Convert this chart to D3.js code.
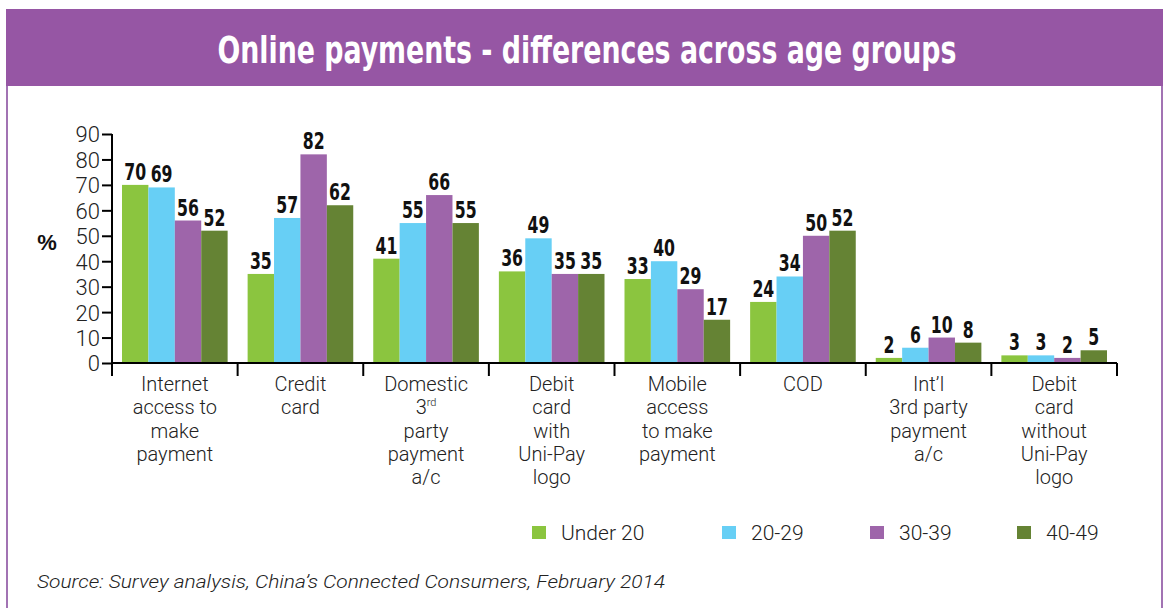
<!DOCTYPE html>
<html>
<head>
<meta charset="utf-8">
<script src="https://cdn.jsdelivr.net/npm/d3@7"></script>
<style>
  html, body { margin: 0; padding: 0; background: #fff; }
  svg { display: block; }
</style>
</head>
<body>
<svg id="chart" width="1165" height="608"></svg>
<script>
// ---------- data ----------
const categories = [
  ["Internet", "access to", "make", "payment"],
  ["Credit", "card"],
  ["Domestic", "3^rd", "party", "payment", "a/c"],
  ["Debit", "card", "with", "Uni-Pay", "logo"],
  ["Mobile", "access", "to make", "payment"],
  ["COD"],
  ["Int\u2019l", "3rd party", "payment", "a/c"],
  ["Debit", "card", "without", "Uni-Pay", "logo"]
];
const seriesNames = ["Under 20", "20-29", "30-39", "40-49"];
const under20 = [70, 35, 41, 36, 33, 24, 2, 3];
const age2029 = [69, 57, 55, 49, 40, 34, 6, 3];
const age3039 = [56, 82, 66, 35, 29, 50, 10, 2];
const age4049 = [52, 62, 55, 35, 17, 52, 8, 5];
const yTicks = [0, 10, 20, 30, 40, 50, 60, 70, 80, 90];
const titleText = "Online payments - differences across age groups";
const sourceText = "Source: Survey analysis, China\u2019s Connected Consumers, February 2014";

(function () {
const seriesValues = [under20, age2029, age3039, age4049];
const colors = ["#8bc53f", "#67cff5", "#9e65aa", "#658334"];

// ---------- layout ----------
const svg = d3.select("#chart");
const W = 1165, H = 608;
const pLeft = 112, pRight = 1117, pTop = 134, base = 363;

// frame
svg.append("rect").attr("x", 6).attr("y", 9).attr("width", 1157).attr("height", 77).attr("fill", "#9656a4");
svg.append("line").attr("x1", 7).attr("x2", 7).attr("y1", 86).attr("y2", H).attr("stroke", "#a273b3").attr("stroke-width", 2);
svg.append("line").attr("x1", 1162).attr("x2", 1162).attr("y1", 86).attr("y2", H).attr("stroke", "#a273b3").attr("stroke-width", 2);

svg.append("text")
  .attr("x", 587).attr("y", 63)
  .attr("text-anchor", "middle")
  .attr("fill", "#fff")
  .attr("font-family", "'DejaVu Sans Condensed', 'DejaVu Sans', sans-serif")
  .attr("font-weight", "bold")
  .attr("font-size", 38)
  .attr("textLength", 739)
  .attr("lengthAdjust", "spacingAndGlyphs")
  .text(titleText);

// scales
const idx = d3.range(categories.length);
const x0 = d3.scaleBand().domain(idx).range([pLeft, pRight]).padding(0);
const x1 = d3.scaleBand().domain(d3.range(seriesNames.length)).range([10, x0.bandwidth() - 10]).padding(0);
const y = d3.scaleLinear().domain([0, 90]).range([base, pTop]);

// bars
const groups = svg.append("g").selectAll("g")
  .data(idx).join("g")
  .attr("transform", i => `translate(${x0(i)},0)`);

groups.selectAll("rect")
  .data(i => seriesValues.map((s, k) => ({ k, v: s[i] })))
  .join("rect")
  .attr("x", d => x1(d.k))
  .attr("y", d => y(d.v))
  .attr("width", x1.bandwidth())
  .attr("height", d => base - y(d.v))
  .attr("fill", d => colors[d.k]);

groups.selectAll("text.val")
  .data(i => seriesValues.map((s, k) => ({ k, v: s[i] })))
  .join("text")
  .attr("class", "val")
  .attr("transform", d => `translate(${x1(d.k) + x1.bandwidth() / 2},${y(d.v) - 5}) scale(0.76,1)`)
  .attr("text-anchor", "middle")
  .attr("font-family", "'DejaVu Sans Condensed', 'DejaVu Sans', sans-serif")
  .attr("font-weight", "bold")
  .attr("font-size", 23)
  .attr("fill", "#111")
  .text(d => d.v);

// y axis
const yAxis = d3.axisLeft(y).tickValues(yTicks).tickSize(10).tickPadding(2);
const yg = svg.append("g").attr("transform", `translate(${pLeft},0)`).call(yAxis);
yg.select(".domain").remove();
yg.selectAll(".tick line").attr("stroke", "#000").attr("stroke-width", 2);
yg.selectAll(".tick text")
  .attr("font-family", "Roboto, 'Liberation Sans', sans-serif")
  .attr("font-weight", 300)
  .attr("font-size", 22)
  .attr("fill", "#222")
  .attr("dy", "0.36em");
svg.append("line").attr("x1", pLeft).attr("x2", pLeft).attr("y1", pTop).attr("y2", base + 13)
  .attr("stroke", "#000").attr("stroke-width", 2);

svg.append("text").attr("x", 47).attr("y", 250).attr("text-anchor", "middle")
  .attr("font-family", "'Liberation Sans', sans-serif").attr("font-weight", "bold")
  .attr("font-size", 22).attr("fill", "#111").text("%");

// x axis
svg.append("line").attr("x1", pLeft).attr("x2", pRight).attr("y1", base).attr("y2", base)
  .attr("stroke", "#000").attr("stroke-width", 2);
const boundaries = idx.map(i => x0(i) + x0.bandwidth());
svg.append("g").selectAll("line").data(boundaries).join("line")
  .attr("x1", d => d).attr("x2", d => d).attr("y1", base).attr("y2", base + 13)
  .attr("stroke", "#000").attr("stroke-width", 2);

// category labels
const catG = svg.append("g")
  .attr("font-family", "Roboto, 'Liberation Sans', sans-serif")
  .attr("font-weight", 300)
  .attr("font-size", 20)
  .attr("fill", "#222");
idx.forEach(i => {
  const cx = x0(i) + x0.bandwidth() / 2;
  const t = catG.append("text").attr("text-anchor", "middle");
  categories[i].forEach((line, j) => {
    const yy = 391 + j * 23.3;
    if (line.includes("^")) {
      const [a, b] = line.split("^");
      const tl = catG.append("text").attr("x", cx).attr("y", yy).attr("text-anchor", "middle");
      tl.append("tspan").text(a);
      tl.append("tspan").attr("font-size", 11).attr("dy", -8).text(b);
    } else {
      t.append("tspan").attr("x", cx).attr("y", yy).text(line);
    }
  });
});

// legend
const legX = [532, 722, 870, 1017];
const leg = svg.append("g").selectAll("g").data(seriesNames).join("g")
  .attr("transform", (d, k) => `translate(${legX[k]},0)`);
leg.append("rect").attr("x", 0).attr("y", 526).attr("width", 14).attr("height", 13)
  .attr("fill", (d, k) => colors[k]);
leg.append("text").attr("x", 29).attr("y", 540)
  .attr("font-family", "Roboto, 'Liberation Sans', sans-serif")
  .attr("font-weight", 300).attr("font-size", 21).attr("fill", "#222")
  .text(d => d);

// source
svg.append("text").attr("x", 37).attr("y", 588)
  .attr("font-family", "Roboto, 'Liberation Sans', sans-serif")
  .attr("font-weight", 300).attr("font-style", "italic")
  .attr("font-size", 19).attr("fill", "#222")
  .attr("textLength", 628).attr("lengthAdjust", "spacingAndGlyphs")
  .text(sourceText);
})();
</script>
</body>
</html>
